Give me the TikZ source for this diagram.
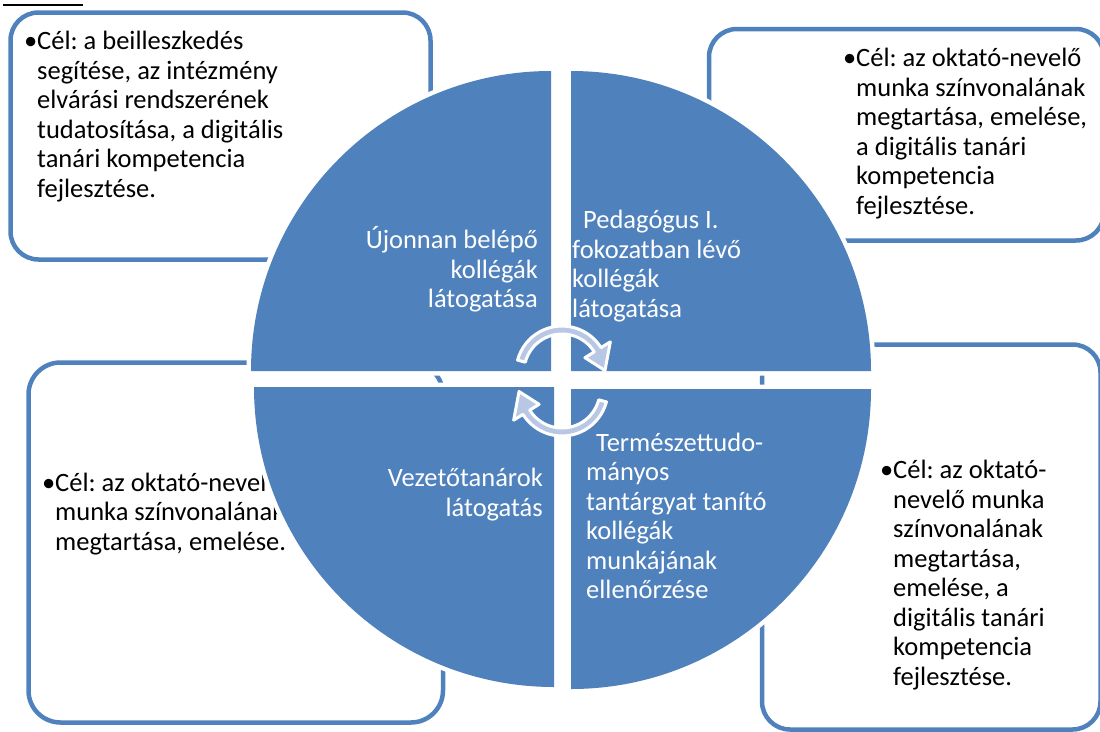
\documentclass[tikz,border=0pt]{standalone}
\usepackage{fontspec}
\setmainfont{Carlito}
\frenchspacing
\definecolor{qblue}{HTML}{4F81BD}
\definecolor{arrowfill}{HTML}{B8C8E4}
\newcommand{\bfnt}{\fontsize{26.5}{29.5}\selectfont}
\newcommand{\qfnt}{\fontsize{26.5}{29.5}\selectfont}
\begin{document}
\begin{tikzpicture}[x=1pt,y=-1pt,
  goalbox/.style={draw=qblue, line width=4.5pt, rounded corners=28pt},
  goaltext/.style={anchor=north west, inner sep=0pt, align=left, font=\bfnt, text=black},
  halo/.style={draw=white, line width=9pt, line join=round},
  quad/.style={fill=qblue},
  qtextL/.style={anchor=north west, inner sep=0pt, align=left, font=\qfnt, text=white},
  qtextR/.style={anchor=north east, inner sep=0pt, align=right, font=\qfnt, text=white},
  cyc/.style={fill=arrowfill, draw=white, line width=3pt, line join=round}]
\useasboundingbox (0,0) rectangle (1100,731);

% underline fragment at the top left
\draw[line width=2.5pt] (3,5) -- (83,5);

% goal boxes
\draw[goalbox] (10.5,12.5) rectangle (430.5,259.5);
\draw[goalbox] (709,29) rectangle (1104,240.5);
\draw[goalbox] (762,344.5) rectangle (1100.5,729.5);
\draw[goalbox, rounded corners=32pt] (28.5,362.5) rectangle (443,722.5);

% goal texts
\node[goaltext] (gtl) at (37,29) {\strut\llap{•}Cél: a beilleszkedés\\segítése, az intézmény\\elvárási rendszerének\\tudatosítása, a digitális\\tanári kompetencia\\fejlesztése.};
\node[goaltext] (gtr) at (856,46) {\strut\llap{•}Cél: az oktató-nevelő\\munka színvonalának\\megtartása, emelése,\\a digitális tanári\\kompetencia\\fejlesztése.};
\node[goaltext] (gbr) at (893,458) {\strut\llap{•}Cél: az oktató-\\nevelő munka\\színvonalának\\megtartása,\\emelése, a\\digitális tanári\\kompetencia\\fejlesztése.};
\node[goaltext] (gbl) at (55,470.5) {\strut\llap{•}Cél: az oktató-nevelő\\munka színvonalának\\megtartása, emelése.};

% quadrant halos
\path[halo] (551,371) -- (251,371) arc[start angle=180, end angle=270, radius=300] -- cycle;
\path[halo] (571,371) -- (571,71) arc[start angle=270, end angle=360, radius=300] -- cycle;
\path[halo] (571,389) -- (871,389) arc[start angle=0, end angle=90, radius=300] -- cycle;
\path[halo] (554,387) -- (554,687) arc[start angle=90, end angle=180, radius=300] -- cycle;
% quadrants
\path[quad] (551,371) -- (251,371) arc[start angle=180, end angle=270, radius=300] -- cycle;
\path[quad] (571,371) -- (571,71) arc[start angle=270, end angle=360, radius=300] -- cycle;
\path[quad] (571,389) -- (871,389) arc[start angle=0, end angle=90, radius=300] -- cycle;
\path[quad] (554,387) -- (554,687) arc[start angle=90, end angle=180, radius=300] -- cycle;

% quadrant texts
\node[qtextR] (qtl) at (538,226.4) {\strut Újonnan belépő\\kollégák\\látogatása};
\node[qtextL] (qtr) at (572,208) {\strut\hspace*{11pt}Pedagógus I.\\fokozatban lévő\\kollégák\\látogatása};
\node[qtextR] (qbl) at (543,466) {\strut Vezetőtanárok\\látogatás};
\node[qtextL] (qbr) at (586,430.5) {\strut\hspace*{10pt}Természettudo-\\mányos\\tantárgyat tanító\\kollégák\\munkájának\\ellenőrzése};

% cycle arrows
\begin{scope}[shift={(562,372)}]
\path[cyc] (195:46) arc[start angle=195, end angle=328, radius=46]
  -- (328:57) -- (358:43) -- (328:27) -- (328:38)
  arc[start angle=328, end angle=195, radius=38] -- cycle;
\end{scope}
\begin{scope}[shift={(562,390)}]
\path[cyc] (15:46) arc[start angle=15, end angle=148, radius=46]
  -- (148:57) -- (178:43) -- (148:27) -- (148:38)
  arc[start angle=148, end angle=15, radius=38] -- cycle;
\end{scope}
\end{tikzpicture}
\end{document}
